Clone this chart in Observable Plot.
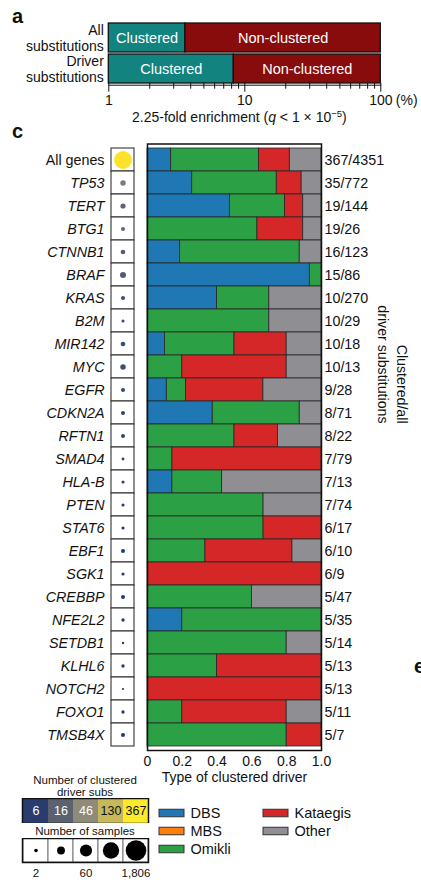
<!DOCTYPE html>
<html><head><meta charset="utf-8">
<script src="https://cdn.jsdelivr.net/npm/d3@7"></script>
<script src="https://cdn.jsdelivr.net/npm/@observablehq/plot@0.6"></script>
<style>
body{margin:0;background:#fff;font-family:"Liberation Sans",Arial,sans-serif;color:#111;}
#root{position:relative;width:421px;height:880px;overflow:hidden;background:#fff;}
.lbl{position:absolute;white-space:nowrap;line-height:1;}
</style></head><body><div id="root"></div>
<script>
// ---------- Panel a data ----------
const aRows = ["All substitutions", "Driver substitutions"];
const aRowLabels = ["All\nsubstitutions", "Driver\nsubstitutions"];
const aClusteredPct = [3.66, 8.3];
const aSegNames = ["Clustered", "Non-clustered"];
const aSegColors = ["#12837f", "#880c0c"];
const aMajorTicks = [1, 10, 100];
const aMinorTicks = [2, 3, 4, 5, 6, 7, 8, 9, 20, 30, 40, 50, 60, 70, 80, 90];

// ---------- Panel c data ----------
const genes = ["All genes","TP53","TERT","BTG1","CTNNB1","BRAF","KRAS","B2M","MIR142","MYC","EGFR","CDKN2A","RFTN1","SMAD4","HLA-B","PTEN","STAT6","EBF1","SGK1","CREBBP","NFE2L2","SETDB1","KLHL6","NOTCH2","FOXO1","TMSB4X"];
const clustered = [367,35,19,19,16,15,10,10,10,10,9,8,8,7,7,7,6,6,6,5,5,5,5,5,5,5];
const totals = [4351,772,144,26,123,86,270,29,18,13,28,71,22,79,13,74,17,10,9,47,35,14,13,13,11,7];
const samples = [1806,170,150,90,125,200,90,55,125,165,90,90,90,45,55,55,55,90,55,90,62,32,62,26,62,90];
// share of each type of clustered driver (per gene)
const shareDBS      = [0.136,0.257,0.474,0,0.1875,0.933,0.4,0,0.1,0,0.111,0.375,0,0,0.143,0,0,0,0,0,0.2,0,0,0,0,0];
const shareMBS      = [0,0,0,0,0,0,0,0,0,0,0,0,0,0,0,0,0,0,0,0,0,0,0,0,0,0];
const shareOmikli   = [0.505,0.486,0.316,0.632,0.6875,0.067,0.3,0.7,0.4,0.2,0.111,0.5,0.5,0.143,0.286,0.667,0.667,0.333,0,0.6,0.8,0.8,0.4,0,0.2,0.8];
const shareKataegis = [0.177,0.143,0.105,0.263,0,0,0,0,0.3,0.6,0.444,0,0.25,0.857,0,0,0.333,0.5,1,0,0,0,0.6,1,0.6,0.2];
const shareOther    = [0.182,0.114,0.105,0.105,0.125,0,0.3,0.3,0.2,0.2,0.333,0.125,0.25,0,0.571,0.333,0,0.167,0,0.4,0,0.2,0,0,0.2,0];
const typeNames = ["DBS","MBS","Omikli","Kataegis","Other"];
const typeColors = ["#1f77b4","#ff7f0e","#2ca044","#d62728","#8f8f93"];
const xTicks = [0, 0.2, 0.4, 0.6, 0.8, 1.0];

// ---------- Legend data ----------
const subsLegend = [6, 16, 46, 130, 367];
const subsColors = ["#2a3c6e", "#5c6170", "#8e8b79", "#c8b85c", "#fbe92c"];
const dotColors = ["#22397a", "#565d7a", "#86867e", "#c8b85c", "#fbe32c"];
const sampleLegend = [2, 11, 60, 330, 1806];
const sampleLegendLabels = ["2", "", "60", "", "1,806"];

const FONT = '"Liberation Sans", Arial, sans-serif';
const root = document.getElementById("root");
function place(el, left, top) {
  el.style.position = "absolute";
  el.style.left = left + "px";
  el.style.top = top + "px";
  el.style.background = "transparent";
  el.style.maxWidth = "none";
  root.append(el);
}
function label(html, left, top, css) {
  const d = document.createElement("div");
  d.className = "lbl";
  d.innerHTML = html;
  d.style.left = left + "px";
  d.style.top = top + "px";
  Object.assign(d.style, css || {});
  root.append(d);
  return d;
}

// ---------- Panel a ----------
const aData = aRows.map((r, i) => ({row: r, label: aRowLabels[i], c: aClusteredPct[i]}));
const aSegs = aData.flatMap(d => [
  {row: d.row, x1: aMajorTicks[0], x2: d.c, name: aSegNames[0]},
  {row: d.row, x1: d.c, x2: aMajorTicks[aMajorTicks.length - 1], name: aSegNames[1]}
]);
const plotA = Plot.plot({
  width: 421, height: 125,
  marginLeft: 108.3, marginRight: 40.7, marginTop: 22, marginBottom: 42.3,
  style: {fontFamily: FONT, fontSize: "14px", color: "#111", background: "transparent"},
  x: {type: "log", domain: [1, 100], label: null},
  y: {domain: aRows, paddingInner: 0.08, paddingOuter: 0, axis: null},
  color: {domain: aSegNames, range: aSegColors},
  marks: [
    Plot.barX(aSegs, {x1: "x1", x2: "x2", y: "row", fill: "name", stroke: "#111", strokeWidth: 1.3}),
    Plot.text(aSegs, {x: d => Math.sqrt(d.x1 * d.x2), y: "row", text: "name", fill: "white", fontSize: 14.5}),
    Plot.text(aData, {y: "row", text: "label", frameAnchor: "left", textAnchor: "end", dx: -5, lineHeight: 1.12, fontSize: 14}),
    Plot.frame({anchor: "bottom", dy: 2, stroke: "#111", strokeWidth: 1}),
    Plot.axisX({ticks: aMajorTicks, tickSize: 9, tickPadding: 3, tickFormat: d => String(d), label: null, stroke: "#111", fontSize: 14}),
    Plot.axisX({ticks: aMinorTicks, tickSize: 6, tickFormat: () => "", label: null, stroke: "#111"}),
    Plot.text(aMajorTicks.slice(-1), {x: d => d, text: () => "(%)", frameAnchor: "bottom", lineAnchor: "top", textAnchor: "start", dx: 15, dy: 12, fontSize: 14})
  ]
});
place(plotA, 0, 0);
label('2.25-fold enrichment (<i>q</i> &lt; 1 × 10<sup style="font-size:9.5px;vertical-align:5px;line-height:0">−5</sup>)', 132, 110, {fontSize: "14px"});
label("a", 12, 6, {fontSize: "20px", fontWeight: "bold"});
label("c", 12, 121, {fontSize: "20px", fontWeight: "bold"});
label("e", 414, 656, {fontSize: "20px", fontWeight: "bold"});

// ---------- Panel c ----------
const rows = genes.map((g, i) => ({gene: g, clustered: clustered[i], total: totals[i], samples: samples[i]}));
const shares = [shareDBS, shareMBS, shareOmikli, shareKataegis, shareOther];
const stackData = genes.flatMap((g, i) => typeNames.map((t, j) => ({gene: g, type: t, share: shares[j][i]}))).filter(d => d.share > 0);

const C_TOP = 130, C_H = 660, C_MT = 13.5, C_MB = C_H - C_MT - 606.5;

const plotDots = Plot.plot({
  width: 135, height: C_H,
  marginLeft: 111, marginRight: 1, marginTop: C_MT, marginBottom: C_MB,
  style: {fontFamily: FONT, fontSize: "14px", color: "#111", background: "transparent"},
  y: {domain: genes, padding: 0, axis: null},
  r: {type: "sqrt", domain: [0, 1806], range: [0, 9]},
  color: {type: "log", domain: subsLegend, range: dotColors, clamp: true},
  marks: [
    Plot.cell(rows, {y: "gene", fill: "white", stroke: "#333", strokeWidth: 1.1}),
    Plot.dot(rows, {y: "gene", r: "samples", fill: "clustered", frameAnchor: "middle"}),
    Plot.text(rows.filter(d => d.gene === genes[0]), {y: "gene", text: "gene", frameAnchor: "left", textAnchor: "end", dx: -7, fontSize: 14.3}),
    Plot.text(rows.filter(d => d.gene !== genes[0]), {y: "gene", text: "gene", frameAnchor: "left", textAnchor: "end", dx: -7, fontSize: 14.3, fontStyle: "italic"})
  ]
});
place(plotDots, 0, C_TOP);

const plotBars = Plot.plot({
  width: 286, height: C_H,
  marginLeft: 12, marginRight: 100, marginTop: C_MT, marginBottom: C_MB,
  style: {fontFamily: FONT, fontSize: "14px", color: "#111", background: "transparent", overflow: "visible"},
  x: {domain: [0, 1], label: null},
  y: {domain: genes, padding: 0, axis: null},
  color: {domain: typeNames, range: typeColors},
  marks: [
    Plot.barX(stackData, {x: "share", y: "gene", fill: "type", stroke: "#262626", strokeWidth: 0.8}),
    Plot.frame({stroke: "#111", strokeWidth: 1.5}),
    Plot.text(rows, {y: "gene", text: d => `${d.clustered}/${d.total}`, frameAnchor: "right", textAnchor: "start", dx: 3, fontSize: 14.3}),
    Plot.text(["Clustered/all\ndriver substitutions"], {text: d => d, frameAnchor: "right", rotate: 90, dx: 72, dy: -23.7, fontSize: 14.2, lineHeight: 1.35}),
    Plot.axisX({ticks: xTicks, tickSize: 0, tickPadding: 6, tickFormat: d => d === 0 ? "0" : d.toFixed(1), label: "Type of clustered driver", labelAnchor: "center", labelArrow: "none", labelOffset: 31, fontSize: 14})
  ]
});
place(plotBars, 135, C_TOP);

// ---------- Legends ----------
label("Number of clustered", 85, 775, {fontSize: "11.5px", transform: "translateX(-50%)"});
label("driver subs", 85, 787, {fontSize: "11.5px", transform: "translateX(-50%)"});
const legSubs = Plot.plot({
  width: 170, height: 25,
  marginLeft: 22, marginRight: 22, marginTop: 0, marginBottom: 0,
  style: {fontFamily: FONT, fontSize: "12px", background: "transparent"},
  x: {type: "band", domain: subsLegend, padding: 0, axis: null},
  color: {type: "log", domain: subsLegend, range: subsColors},
  marks: [
    Plot.cell(subsLegend, {x: d => d, fill: d => d}),
    Plot.text(subsLegend.filter(d => d < 100), {x: d => d, text: d => String(d), fill: "white", fontSize: 12.5}),
    Plot.text(subsLegend.filter(d => d >= 100), {x: d => d, text: d => String(d), fill: "#111", fontSize: 12.5}),
    Plot.frame({stroke: "#111", strokeWidth: 1.5})
  ]
});
place(legSubs, 0, 798);

label("Number of samples", 85, 826, {fontSize: "11.5px", transform: "translateX(-50%)"});
const legSamples = Plot.plot({
  width: 170, height: 42,
  marginLeft: 22, marginRight: 22, marginTop: 0, marginBottom: 18,
  style: {fontFamily: FONT, fontSize: "11.5px", background: "transparent"},
  x: {type: "band", domain: sampleLegend, padding: 0},
  r: {type: "log", domain: [2, 1806], range: [1.8, 10.3]},
  marks: [
    Plot.cell(sampleLegend, {x: d => d, fill: "white", stroke: "#777", strokeWidth: 1}),
    Plot.dot(sampleLegend, {x: d => d, r: d => d, fill: "black", frameAnchor: "middle"}),
    Plot.frame({stroke: "#111", strokeWidth: 1.5}),
    Plot.axisX({tickSize: 0, tickPadding: 6, tickFormat: d => sampleLegendLabels[sampleLegend.indexOf(d)], label: null, fontSize: 11.5})
  ]
});
place(legSamples, 0, 838);

const typeLeg = typeNames.map((t, i) => ({type: t, col: Math.floor(i / 3), row: i % 3}));
const legTypes = Plot.plot({
  width: 271, height: 55.5,
  marginLeft: 9, marginRight: 54, marginTop: 0, marginBottom: 0,
  style: {fontFamily: FONT, fontSize: "14px", background: "transparent"},
  x: {type: "band", domain: [0, 1], padding: 0, axis: null},
  y: {type: "band", domain: [0, 1, 2], padding: 0, axis: null},
  color: {domain: typeNames, range: typeColors},
  marks: [
    Plot.cell(typeLeg, {x: "col", y: "row", fill: "type", stroke: "#333", strokeWidth: 1, insetRight: 79, insetTop: 5.25, insetBottom: 5.25}),
    Plot.text(typeLeg, {x: "col", y: "row", text: "type", textAnchor: "start", dx: -21, fontSize: 14.5})
  ]
});
place(legTypes, 150, 802.5);
</script></body></html>
